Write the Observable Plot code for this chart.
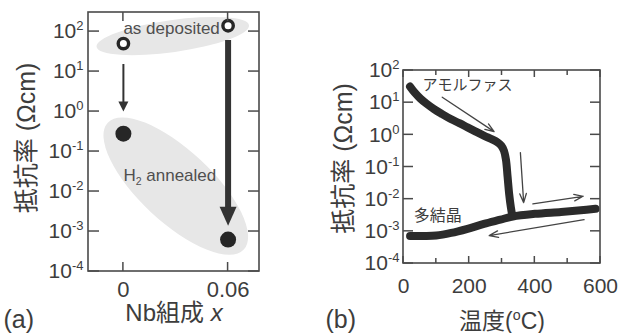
<!DOCTYPE html>
<html>
<head>
<meta charset="utf-8">
<script src="https://cdn.jsdelivr.net/npm/d3@7"></script>
<script src="https://cdn.jsdelivr.net/npm/@observablehq/plot@0.6"></script>
<style>
  html, body { margin: 0; padding: 0; background: #fff; }
  #chart { width: 624px; height: 333px; display: flex; background: #fff; }
</style>
</head>
<body>
<div id="chart"></div>
<script>
// ---------- (a) resistivity vs Nb content ----------
const nbContent = [0, 0.06];
const rhoAsDeposited = [50, 140];      // Ωcm
const rhoH2Annealed = [0.28, 6.3e-4];  // Ωcm
const nbTicks = [0, 0.06];
// annealing arrows: resistivity at arrow start and tip
const annealFrom = [15, 60];
const annealTo = [1.0, 1.4e-3];

// ---------- (b) resistivity vs temperature ----------
const tempAmorphous = [20, 35, 52, 70, 93, 118, 144, 170, 195, 220, 246, 270, 287, 298, 306, 312, 317, 322, 327, 331];
const rhoAmorphous = [31.6, 20.0, 13.2, 9.3, 6.3, 4.4, 3.1, 2.3, 1.7, 1.26, 0.93, 0.72, 0.58, 0.46, 0.32, 0.17, 0.050, 0.014, 0.0056, 0.0032];
const tempPoly = [20, 60, 100, 145, 195, 245, 295, 333, 400, 480, 540, 585];
const rhoPoly = [7.2e-4, 7.2e-4, 7.4e-4, 8.9e-4, 1.2e-3, 1.7e-3, 2.3e-3, 2.9e-3, 3.5e-3, 4.0e-3, 4.5e-3, 5.0e-3];
const tempTicks = [0, 200, 400, 600];
const tempMinorTicks = [100, 300, 500];
const rhoTicks = [1e-4, 1e-3, 1e-2, 1e-1, 1, 10, 100];
// direction arrows along the heating / cooling path
const sweepT1 = [118, 356, 394, 550];
const sweepR1 = [14.8, 0.28, 0.0071, 0.0023];
const sweepT2 = [276, 366, 547, 261];
const sweepR2 = [1.26, 0.0078, 0.0123, 0.00074];

// axis extents
const nbDomain = [-0.02, 0.078];
const rhoDomainA = [1e-4, 300];
const tempDomain = [0, 600];
const rhoDomainB = [1e-4, 1e2];

// ---------- shared styling ----------
const FONT = '"Liberation Sans", Arial, "Noto Sans CJK JP", sans-serif';
const INK = "#3d3d3d";
const NOTE = "#4f4f4f";
const EDGE = "#4a4a4a";
const DARK = "#262626";

const decadeLabel = d => `10^{${Math.round(Math.log10(d))}}`;

// frame with ticks pointing inward on all four sides, placed with the plot's scales
function boxedFrame({yTicks, yLen, xTickSets}) {
  return (index, scales, values, dims) => {
    const {width, height, marginLeft, marginRight, marginTop, marginBottom} = dims;
    const x0 = marginLeft, x1 = width - marginRight;
    const y0 = marginTop, y1 = height - marginBottom;
    const g = d3.create("svg:g")
      .attr("fill", "none").attr("stroke", EDGE).attr("stroke-width", 1.5);
    for (const v of yTicks) {
      const y = scales.y(v);
      g.append("line").attr("x1", x0).attr("x2", x0 + yLen).attr("y1", y).attr("y2", y);
      g.append("line").attr("x1", x1 - yLen).attr("x2", x1).attr("y1", y).attr("y2", y);
    }
    for (const {ticks, len} of xTickSets) {
      for (const v of ticks) {
        const x = scales.x(v);
        g.append("line").attr("x1", x).attr("x2", x).attr("y1", y0).attr("y2", y0 + len);
        g.append("line").attr("x1", x).attr("x2", x).attr("y1", y1 - len).attr("y2", y1);
      }
    }
    g.append("rect").attr("x", x0).attr("y", y0).attr("width", x1 - x0).attr("height", y1 - y0)
      .attr("stroke-width", 1.6);
    return g.node();
  };
}

// filled arrowhead pointing down with its tip at the anchor
const arrowHead = (w, h) => ({
  draw(ctx) { ctx.moveTo(0, 0); ctx.lineTo(-w / 2, -h); ctx.lineTo(w / 2, -h); ctx.closePath(); }
});

// soft grey ellipses grouping the as-deposited and annealed samples
const groupShading = [
  {x: 0.0286, rho: 75, rx: 77, ry: 16, angle: -8},
  {x: 0.0303, rho: 0.0133, rx: 93, ry: 36, angle: 43}
];
function shading(shapes) {
  return (index, scales) => {
    const g = d3.create("svg:g");
    for (const s of shapes) {
      const cx = scales.x(s.x), cy = scales.y(s.rho);
      g.append("ellipse")
        .attr("cx", cx).attr("cy", cy)
        .attr("rx", s.rx).attr("ry", s.ry)
        .attr("transform", `rotate(${s.angle} ${cx} ${cy})`)
        .attr("fill", "#e7e7e7");
    }
    return g.node();
  };
}

// turn ^{..} (superscript), _{..} (subscript) and ~{..} (italic) into tspans
function richText(svg) {
  const NS = "http://www.w3.org/2000/svg";
  for (const t of svg.querySelectorAll("text")) {
    const src = t.textContent;
    if (!/[\^_~]\{/.test(src)) continue;
    const fs = parseFloat(getComputedStyle(t).fontSize) || 16;
    t.textContent = "";
    let shift = 0;
    const add = (str, kind) => {
      const s = document.createElementNS(NS, "tspan");
      s.textContent = str;
      let target = 0;
      if (kind === "^") { target = -0.38 * fs; s.setAttribute("font-size", 0.62 * fs); }
      else if (kind === "_") { target = 0.22 * fs; s.setAttribute("font-size", 0.62 * fs); }
      else if (kind === "~") { s.setAttribute("font-style", "italic"); }
      if (target !== shift) { s.setAttribute("dy", target - shift); shift = target; }
      t.appendChild(s);
    };
    const re = /([\^_~])\{([^}]*)\}/g;
    let last = 0, m;
    while ((m = re.exec(src))) {
      if (m.index > last) add(src.slice(last, m.index), "");
      add(m[2], m[1]);
      last = re.lastIndex;
    }
    if (last < src.length) add(src.slice(last), "");
  }
}

// ---------- panel (a) ----------
const annealArrows = nbContent.map((x, i) => ({x, from: annealFrom[i], to: annealTo[i]}));
const samples = nbContent.map((x, i) => ({x, dep: rhoAsDeposited[i], ann: rhoH2Annealed[i]}));

const plotA = Plot.plot({
  width: 312, height: 333,
  marginLeft: 88, marginRight: 53, marginTop: 12, marginBottom: 62,
  x: {domain: nbDomain},
  y: {type: "log", domain: rhoDomainA},
  marks: [
    shading(groupShading),
    Plot.text(["as deposited"], {x: 0, y: 119, text: d => d, textAnchor: "start", fontSize: 17, fontFamily: FONT, fill: NOTE}),
    Plot.text(["H_{2} annealed"], {x: 0, y: 0.025, text: d => d, textAnchor: "start", fontSize: 17, fontFamily: FONT, fill: NOTE}),
    // annealing arrows
    Plot.ruleX([annealArrows[0]], {x: "x", y1: "from", y2: "to", stroke: "#333", strokeWidth: 2, insetBottom: 8}),
    Plot.dot([annealArrows[0]], {x: "x", y: "to", symbol: arrowHead(10, 10), fill: "#333", stroke: "none"}),
    Plot.ruleX([annealArrows[1]], {x: "x", y1: "from", y2: "to", stroke: "#333", strokeWidth: 6, insetBottom: 16}),
    Plot.dot([annealArrows[1]], {x: "x", y: "to", symbol: arrowHead(17, 19), fill: "#333", stroke: "none"}),
    // samples
    Plot.dot(samples, {x: "x", y: "dep", r: 5.2, fill: "#fff", stroke: DARK, strokeWidth: 3.4}),
    Plot.dot(samples, {x: "x", y: "ann", r: 8, fill: DARK, stroke: "none"}),
    // frame, ticks and labels
    boxedFrame({yTicks: rhoTicks, yLen: 11, xTickSets: [{ticks: nbTicks, len: 9}]}),
    Plot.axisY({ticks: rhoTicks, tickSize: 0, tickPadding: 5, tickFormat: decadeLabel, fontSize: 21, fontFamily: FONT, fill: INK, label: null}),
    Plot.axisX({ticks: nbTicks, tickSize: 0, tickPadding: 10, tickFormat: d => d === 0 ? "0" : d.toFixed(2), fontSize: 22, fontFamily: FONT, fill: INK, label: null}),
    Plot.text(["抵抗率 (Ωcm)"], {frameAnchor: "left", textAnchor: "middle", lineAnchor: "middle", dx: -62, dy: -4, rotate: -90, text: d => d, fontSize: 25, fontFamily: FONT, fill: INK}),
    Plot.text(["Nb組成 ~{x}"], {frameAnchor: "bottom", textAnchor: "middle", lineAnchor: "middle", dy: 42, text: d => d, fontSize: 24, fontFamily: FONT, fill: INK}),
    Plot.text(["(a)"], {frameAnchor: "bottom-left", textAnchor: "start", lineAnchor: "middle", dx: -85, dy: 48, text: d => d, fontSize: 25, fontFamily: FONT, fill: INK})
  ]
});

// ---------- panel (b) ----------
const sweep = [
  ...tempAmorphous.map((t, i) => ({phase: "amorphous", t, rho: rhoAmorphous[i]})),
  ...tempPoly.map((t, i) => ({phase: "poly", t, rho: rhoPoly[i]}))
];
const sweepArrows = sweepT1.map((t1, i) => ({t1, r1: sweepR1[i], t2: sweepT2[i], r2: sweepR2[i]}));

const plotB = Plot.plot({
  width: 312, height: 333,
  marginLeft: 91, marginRight: 24, marginTop: 70, marginBottom: 70,
  x: {domain: tempDomain},
  y: {type: "log", domain: rhoDomainB},
  marks: [
    Plot.line(sweep, {x: "t", y: "rho", z: "phase", stroke: "#2b2b2b", strokeWidth: 8,
      curve: "catmull-rom", strokeLinecap: "round", strokeLinejoin: "round"}),
    Plot.arrow(sweepArrows, {x1: "t1", y1: "r1", x2: "t2", y2: "r2", stroke: "#444",
      strokeWidth: 1.3, headLength: 11, headAngle: 40}),
    Plot.text(["アモルファス"], {x: 58, y: 34, text: d => d, textAnchor: "start", fontSize: 15, fontFamily: FONT, fill: INK}),
    Plot.text(["多結晶"], {x: 31, y: 0.0030, text: d => d, textAnchor: "start", fontSize: 16, fontFamily: FONT, fill: INK}),
    boxedFrame({yTicks: rhoTicks, yLen: 10, xTickSets: [{ticks: tempTicks, len: 7}, {ticks: tempMinorTicks, len: 5}]}),
    Plot.axisY({ticks: rhoTicks, tickSize: 0, tickPadding: 4, tickFormat: decadeLabel, fontSize: 21, fontFamily: FONT, fill: INK, label: null}),
    Plot.axisX({ticks: tempTicks, tickSize: 0, tickPadding: 15, tickFormat: d => String(d), fontSize: 21, fontFamily: FONT, fill: INK, label: null}),
    Plot.text(["抵抗率 (Ωcm)"], {frameAnchor: "left", textAnchor: "middle", lineAnchor: "middle", dx: -60, dy: -8.5, rotate: -90, text: d => d, fontSize: 25, fontFamily: FONT, fill: INK}),
    Plot.text(["温度(^{o}C)"], {frameAnchor: "bottom", textAnchor: "middle", lineAnchor: "middle", dy: 58, text: d => d, fontSize: 23, fontFamily: FONT, fill: INK}),
    Plot.text(["(b)"], {frameAnchor: "bottom-left", textAnchor: "start", lineAnchor: "middle", dx: -78, dy: 56, text: d => d, fontSize: 25, fontFamily: FONT, fill: INK})
  ]
});

const chart = document.getElementById("chart");
chart.append(plotA, plotB);
richText(plotA);
richText(plotB);
</script>
</body>
</html>
